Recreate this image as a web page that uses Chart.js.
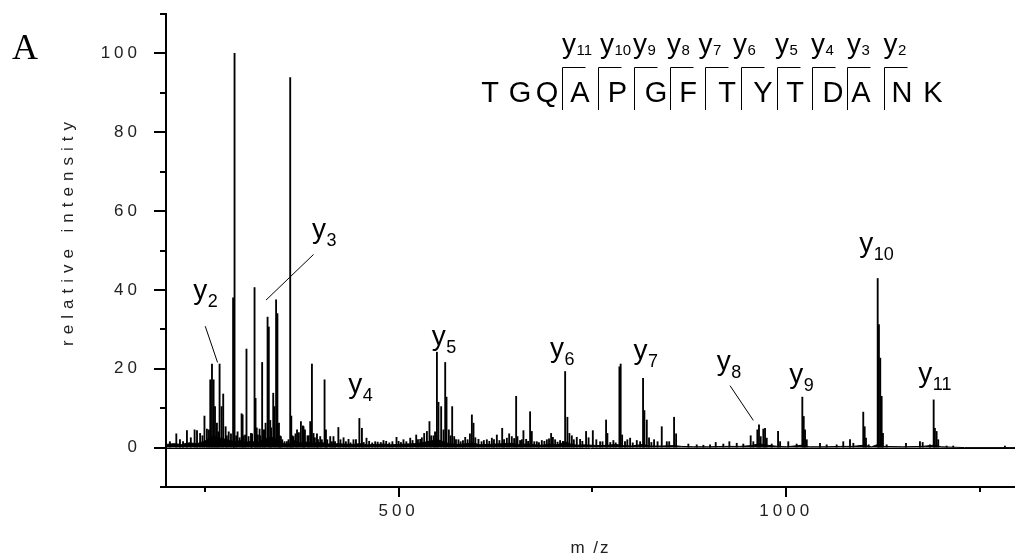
<!DOCTYPE html>
<html>
<head>
<meta charset="utf-8">
<script src="https://cdn.jsdelivr.net/npm/chart.js@4.4.1/dist/chart.umd.min.js"></script>
<style>
  html, body { margin: 0; padding: 0; background: #fff; }
  #wrap { position: relative; width: 1015px; height: 558px; }
</style>
</head>
<body>
<div id="wrap"><canvas id="chart"></canvas></div>
<script>
// centroid peaks, [m/z, relative intensity]
const peaksLow = [
  [205, 1.5], [213.3, 3.5], [218, 2], [222, 1.5], [227, 4.3], [232, 2.5], [236.9, 4.5], [240, 4.3],
  [244, 3.6], [247, 3], [249.6, 8], [252.8, 4.7], [255.4, 4.5], [257.1, 17.2], [259.3, 21.2],
  [261.4, 17.2], [263.2, 10.4], [265.7, 6.2], [267.5, 4], [269.1, 21.2], [271.7, 10.4], [273.8, 13.6],
  [276.9, 5.3], [278.5, 3], [280.9, 4], [283.8, 3.5], [286.6, 38], [287.4, 37.7], [288.4, 100],
  [290.5, 3], [292.3, 4], [295, 2.5], [297.5, 8.6], [298.8, 8.3], [300, 3], [302, 3.2], [303.8, 25],
  [306.5, 2.8], [309.6, 3.6], [311, 3.5], [314.2, 40.6], [315.5, 12.5], [317, 5], [318.5, 3.2],
  [320.7, 4.7], [321.8, 3], [324, 21.6], [325.8, 4.5], [327, 4.5], [328.4, 6.2], [331, 33.1],
  [332.6, 30.6], [334.5, 6.9], [335.5, 5], [338.3, 13.8], [339.8, 10.4], [342, 37.5], [343.7, 34],
  [345.7, 6.2], [347, 3], [348.2, 2.8], [350, 2], [353, 1.5], [356, 1.5], [358, 2], [360.2, 93.9],
  [361.6, 8], [363, 3], [364.5, 2.8], [367, 3.5], [369, 4.5], [371.4, 3.8], [374, 6.6], [376.6, 5.5],
  [377.4, 5.3], [379.2, 4.5], [382.5, 3], [384, 3], [386, 6.6], [388.2, 21.2], [390.3, 3.6],
  [392, 2.5], [394.7, 3.5], [396, 2], [398.9, 2.8], [401, 2], [404.5, 17.2], [406.3, 4.5], [408, 2],
  [411.8, 2.8], [414, 1.5], [416, 2.8], [418, 1.5]
];
const peaksMid = [
  [422.3, 5.1], [425, 2], [429, 2.5], [432, 1.5], [435.4, 2.1], [438, 1.2], [441.8, 2], [445, 2],
  [449.4, 7.4], [452.7, 4.9], [455, 1.3], [458.6, 2.4], [462, 1.6], [466, 1.2], [469.8, 1.5],
  [473, 1.4], [477, 1.3], [480.5, 1.8], [484, 1.6], [488, 1.2], [492, 1.5], [497.3, 2.6], [500, 1.6],
  [503, 1.3], [506.3, 2], [510, 1.5], [515, 2.4], [518, 1.8], [522.7, 3.2], [525, 2], [527.9, 2.1],
  [530, 2.5], [533, 3.6], [536.5, 4.1], [539.8, 6.6], [542, 3], [545, 3], [547, 4], [549.4, 24.2],
  [551.4, 11.5], [554.9, 10.4], [557.9, 4.5], [560.1, 21.6], [561.8, 12.8], [564.8, 4.5], [567, 3],
  [569.1, 10.4], [571.7, 2.8], [574, 2], [577.2, 2], [580, 1.5], [583, 1.8], [585.9, 2.6], [589, 2],
  [592, 3.5], [594.5, 8.3], [596.6, 6.2], [599, 2.5], [603, 2.1], [607, 1.5], [610, 1.8],
  [613.8, 2], [617, 1.6], [620.3, 2.4], [623, 2], [626.7, 3.2], [630, 1.8], [633.6, 4.9], [636, 2],
  [639.6, 2.4], [642.6, 3.5], [646, 2.8], [649, 2.3], [651.6, 13], [653.3, 2.8], [656.7, 1.8],
  [659, 2], [661, 4.3], [664.5, 2.1], [667, 1.6], [669.6, 9.1], [671.8, 4.1], [675, 1.5],
  [678.3, 1.5], [681, 1.3], [684.7, 1.8], [688, 1.6], [691.2, 2], [694, 2.2], [696.7, 3.6],
  [699, 2.6], [701.9, 2], [705, 1.4], [708.3, 1.8], [712, 1.6], [714.8, 19.3], [717.7, 7.7],
  [720.3, 3.6], [723.4, 3], [726, 2], [729.8, 2.6], [734.1, 2.1], [737, 1.6], [741.8, 4.1],
  [745, 2.5], [750.5, 4.3], [755, 2], [759.9, 1.5], [763, 1.5], [767.6, 7], [769.3, 3.6],
  [773, 1.3], [777, 1.8], [780, 1.2], [784.8, 20.5], [786.4, 21.2], [788.3, 3.2], [792, 1.5],
  [795, 2], [798.6, 2.4], [802, 1.2], [807.2, 1.8], [811.5, 1.5], [815.3, 17.6], [817, 9.4],
  [820.1, 7], [823, 2.5], [826, 1.3], [829.5, 2], [834, 1.5], [839.4, 5.3], [845.9, 1.5],
  [849, 1.5], [855.3, 7.7], [857.9, 3.5]
];
const peaksHigh = [
  [873.7, 0.9], [884.5, 0.7], [893.1, 0.6], [901.7, 0.7], [909, 1.3], [918.8, 0.9], [926.6, 1.5],
  [936.1, 1.1], [944.6, 0.9], [954.1, 3], [957.5, 1.5], [962.7, 4.5], [964.8, 5.8], [967, 2.8],
  [970.4, 4.7], [972.6, 4.9], [974.8, 2.4], [981.2, 0.9], [989.4, 4.1], [992, 1.5], [1002.6, 1.5],
  [1013.4, 0.9], [1020.7, 12.8], [1022.5, 7.9], [1024.2, 4.5], [1026.4, 2], [1043.5, 1.1],
  [1052.1, 0.7], [1065, 0.7], [1073.5, 1.5], [1082.2, 2], [1086.5, 1.1], [1099.3, 9], [1101.1, 5.3],
  [1102.8, 2.4], [1106.3, 0.7], [1117.9, 42.9], [1119.5, 31.2], [1121.2, 22.7], [1123, 13],
  [1124.7, 3.6], [1129.5, 0.7], [1154.4, 1.1], [1172.4, 1.5], [1175.9, 1.3], [1185.3, 0.7],
  [1190.1, 12.1], [1191.7, 4.9], [1193.9, 4.1], [1196, 2], [1206.8, 0.4], [1215.3, 0.4], [1282, 0.4]
];

// chemical noise floor under the peaks
const noiseFloor = [
  [200, 0.8], [210, 1.0], [220, 0.8], [230, 1.2], [240, 1.0], [250, 1.6], [256, 2.5], [262, 3.0],
  [268, 2.5], [275, 2.2], [282, 1.8], [290, 1.5], [296, 1.8], [302, 1.3], [310, 1.6], [318, 1.2],
  [325, 2.0], [332, 2.5], [338, 2.6], [345, 2.0], [352, 1.0], [358, 0.8], [365, 1.8], [372, 1.2],
  [380, 1.4], [390, 1.1], [400, 1.3], [410, 0.9], [420, 1.0], [430, 0.9], [440, 0.8], [450, 1.0],
  [460, 0.7], [470, 0.8], [480, 0.9], [490, 0.7], [500, 0.8], [510, 0.9], [520, 1.0], [530, 1.2],
  [540, 1.6], [550, 2.0], [558, 1.5], [565, 1.0], [575, 0.8], [585, 0.9], [595, 1.2], [605, 0.7],
  [615, 0.8], [625, 0.9], [635, 1.0], [645, 1.1], [655, 0.8], [665, 0.9], [675, 0.7], [685, 0.6],
  [695, 0.9], [705, 0.7], [715, 1.5], [722, 0.9], [730, 0.6], [740, 0.7], [750, 0.6], [760, 0.5],
  [770, 0.6], [780, 0.8], [790, 0.5], [800, 0.4], [815, 0.8], [825, 0.4], [840, 0.4], [855, 0.5],
  [865, 0.3], [880, 0.2], [900, 0.2], [920, 0.3], [940, 0.3], [955, 0.5], [965, 1.0], [975, 0.6],
  [990, 0.3], [1000, 0.2], [1020, 0.6], [1030, 0.2], [1050, 0.2], [1070, 0.3], [1085, 0.3],
  [1100, 0.6], [1110, 0.2], [1118, 0.8], [1126, 0.3], [1150, 0.2], [1175, 0.3], [1190, 0.6],
  [1200, 0.2], [1215, 0.1], [1230, 0], [1295, 0]
];

const yTickValues = [0, 20, 40, 60, 80, 100];
const yMinorValues = [-10, 10, 30, 50, 70, 90, 110];
const xTickValues = [500, 1000];
const xMinorValues = [250, 750, 1250];

const sequence = ['T', 'G', 'Q', 'A', 'P', 'G', 'F', 'T', 'Y', 'T', 'D', 'A', 'N', 'K'];
const headerIons = ['11', '10', '9', '8', '7', '6', '5', '4', '3', '2'];

const FONT = '"Liberation Sans", Arial, sans-serif';

// where the y-ion tags sit, in data units (left edge of "y", baseline)
const ionTags = [
  { sub: '2', mz: 235.2, at: 37.8 },
  { sub: '3', mz: 388.2, at: 53.1 },
  { sub: '4', mz: 435.0, at: 13.9 },
  { sub: '5', mz: 542.9, at: 26.0 },
  { sub: '6', mz: 695.4, at: 23.0 },
  { sub: '7', mz: 802.8, at: 22.6 },
  { sub: '8', mz: 910.3, at: 19.6 },
  { sub: '9', mz: 1003.9, at: 16.5 },
  { sub: '10', mz: 1094.2, at: 49.5 },
  { sub: '11', mz: 1170.2, at: 16.6 }
];
const leaders = [
  [250.6, 30.8, 266.5, 21.6],
  [390.3, 49.0, 328.9, 37.4],
  [927.5, 15.7, 957.5, 6.9]
];

// sequence header layout (canvas px)
const seqX = [490, 520, 547, 580, 617.5, 656, 688, 727, 763, 795, 833, 861, 902, 933];
const bracketX = [562, 597.5, 633.5, 669.5, 705, 741, 777, 812, 847, 883.5];
const headerIonX = [562, 600, 633, 667, 698.5, 733, 775, 811, 847, 883.5];

function yTag(ctx, x, y, sub, big, small, drop) {
  ctx.font = big + 'px ' + FONT;
  ctx.fillText('y', x, y);
  const w = ctx.measureText('y').width;
  ctx.font = small + 'px ' + FONT;
  ctx.fillText(sub, x + w + 0.5, y + drop);
}

const decorations = {
  id: 'decorations',
  beforeDraw(chart) {
    chart.ctx.letterSpacing = '4px';
  },
  afterDraw(chart) {
    const { ctx, chartArea: a, scales: { x, y } } = chart;
    ctx.save();
    ctx.letterSpacing = '0px';
    ctx.strokeStyle = '#000';
    ctx.fillStyle = '#000';

    // tick marks
    ctx.lineWidth = 2;
    ctx.beginPath();
    for (const v of yTickValues) {
      const py = Math.round(y.getPixelForValue(v));
      ctx.moveTo(a.left - 12, py); ctx.lineTo(a.left, py);
    }
    for (const v of yMinorValues) {
      const py = Math.round(y.getPixelForValue(v));
      ctx.moveTo(a.left - 6, py); ctx.lineTo(a.left, py);
    }
    for (const v of xTickValues) {
      const px = Math.round(x.getPixelForValue(v));
      ctx.moveTo(px, a.bottom); ctx.lineTo(px, a.bottom + 10);
    }
    for (const v of xMinorValues) {
      const px = Math.round(x.getPixelForValue(v));
      ctx.moveTo(px, a.bottom); ctx.lineTo(px, a.bottom + 5);
    }
    ctx.stroke();

    // zero line
    const y0 = Math.round(y.getPixelForValue(0)) + 0.5;
    ctx.lineWidth = 1;
    ctx.beginPath();
    ctx.moveTo(a.left, y0); ctx.lineTo(a.right, y0);
    ctx.stroke();

    // axis titles
    ctx.fillStyle = '#222';
    ctx.font = '17px ' + FONT;
    ctx.textAlign = 'center';
    ctx.textBaseline = 'middle';
    ctx.letterSpacing = '6px';
    ctx.save();
    ctx.translate(68, 231);
    ctx.rotate(-Math.PI / 2);
    ctx.fillText('relative intensity', 0, 0);
    ctx.restore();
    ctx.letterSpacing = '2px';
    ctx.fillText('m /z', (a.left + a.right) / 2, 548);
    ctx.letterSpacing = '0px';

    // panel letter
    ctx.fillStyle = '#000';
    ctx.textAlign = 'left';
    ctx.textBaseline = 'alphabetic';
    ctx.font = '36px "Liberation Serif", "Times New Roman", serif';
    ctx.fillText('A', 12, 59);

    // ion tags and leader lines
    for (const t of ionTags) {
      yTag(ctx, x.getPixelForValue(t.mz), y.getPixelForValue(t.at), t.sub, 28, 18, 8);
    }
    ctx.lineWidth = 1;
    ctx.beginPath();
    for (const [m1, i1, m2, i2] of leaders) {
      ctx.moveTo(x.getPixelForValue(m1), y.getPixelForValue(i1));
      ctx.lineTo(x.getPixelForValue(m2), y.getPixelForValue(i2));
    }
    ctx.stroke();

    // peptide sequence with fragment brackets
    ctx.font = '29px ' + FONT;
    ctx.textAlign = 'center';
    sequence.forEach((aa, i) => ctx.fillText(aa, seqX[i], 101.5));
    ctx.beginPath();
    for (const bx of bracketX) {
      const px = Math.round(bx) + 0.5;
      ctx.moveTo(px, 110); ctx.lineTo(px, 67.5); ctx.lineTo(px + 23, 67.5);
    }
    ctx.stroke();
    ctx.textAlign = 'left';
    headerIons.forEach((s, i) => yTag(ctx, headerIonX[i], 52.5, s, 28, 15, 2));

    ctx.restore();
  }
};

const toPoints = list => list.map(([m, v]) => ({ x: m, y: v }));

// keep the plot area pinned: no label overhang padding
const flatPadding = s => {
  s.paddingTop = 0; s.paddingBottom = 0; s.paddingLeft = 0; s.paddingRight = 0;
};

Chart.defaults.font.family = FONT;
Chart.defaults.color = '#222';

new Chart(document.getElementById('chart'), {
  type: 'bar',
  data: {
    datasets: [
      {
        type: 'line',
        label: 'noise',
        data: toPoints(noiseFloor),
        borderColor: '#000',
        backgroundColor: '#000',
        borderWidth: 1,
        pointRadius: 0,
        tension: 0,
        fill: 'origin',
        order: 2
      },
      {
        label: 'peaks',
        data: toPoints([...peaksLow, ...peaksMid, ...peaksHigh]),
        backgroundColor: '#000',
        borderWidth: 0,
        barThickness: 1.2,
        order: 1
      }
    ]
  },
  options: {
    responsive: true,
    maintainAspectRatio: false,
    animation: false,
    events: [],
    devicePixelRatio: 1,
    layout: { padding: { top: 14, right: 0, left: 0, bottom: 0 } },
    plugins: {
      legend: { display: false },
      tooltip: { enabled: false }
    },
    scales: {
      x: {
        type: 'linear',
        min: 200,
        max: 1295,
        offset: false,
        afterFit: s => { s.height = 71; flatPadding(s); },
        afterBuildTicks: s => { s.ticks = xTickValues.map(v => ({ value: v })); },
        grid: { drawOnChartArea: false, drawTicks: false },
        border: { color: '#000', width: 2 },
        ticks: { padding: 14, font: { size: 17 }, maxRotation: 0, autoSkip: false, callback: v => String(v) }
      },
      y: {
        min: -10,
        max: 110,
        afterFit: s => { s.width = 166; flatPadding(s); },
        afterBuildTicks: s => { s.ticks = yTickValues.map(v => ({ value: v })); },
        grid: { drawOnChartArea: false, drawTicks: false },
        border: { color: '#000', width: 2 },
        ticks: { padding: 25, font: { size: 17 }, callback: v => String(v) }
      }
    }
  },
  plugins: [decorations]
});
</script>
</body>
</html>
